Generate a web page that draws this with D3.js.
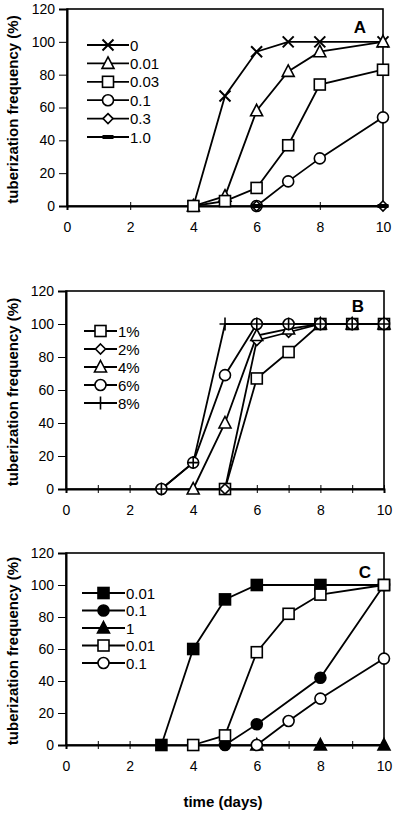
<!DOCTYPE html>
<html><head><meta charset="utf-8">
<script src="https://cdn.jsdelivr.net/npm/d3@7"></script>
<style>body{margin:0;background:#fff}svg{display:block}text{font-family:"Liberation Sans",Arial,sans-serif}</style>
</head><body>
<script>
// ---- data ----
const xTicks = [0,2,4,6,8,10];
const yTicks = [0,20,40,60,80,100,120];

// Panel A
const labelsA = ["0","0.01","0.03","0.1","0.3","1.0"];
const symbolsA = ["cross","triOpen","sqOpen","circOpen","diaOpen","dash"];
const a0   = [[4,0],[5,67],[6,94],[7,100],[8,100],[10,100]];
const a001 = [[4,0],[5,6],[6,58],[7,82],[8,94],[10,100]];
const a003 = [[4,0],[5,3],[6,11],[7,37],[8,74],[10,83]];
const a01  = [[6,0],[7,15],[8,29],[10,54]];
const a03  = [[6,0],[10,0]];
const a10  = [[6,0],[10,0]];

// Panel B
const labelsB = ["1%","2%","4%","6%","8%"];
const symbolsB = ["sqOpen","diaOpen","triOpen","circOpen","plus"];
const b1 = [[5,0],[6,67],[7,83],[8,100],[9,100],[10,100]];
const b2 = [[5,0],[6,90],[7,95],[8,100],[9,100],[10,100]];
const b4 = [[4,0],[5,40],[6,93],[7,97],[8,100],[9,100],[10,100]];
const b6 = [[3,0],[4,16],[5,69],[6,100],[7,100],[8,100],[9,100],[10,100]];
const b8 = [[3,0],[4,16],[5,100],[6,100],[7,100],[8,100],[9,100],[10,100]];

// Panel C
const labelsC = ["0.01","0.1","1","0.01","0.1"];
const symbolsC = ["sqFill","circFill","triFill","sqOpen","circOpen"];
const c1 = [[3,0],[4,60],[5,91],[6,100],[8,100],[10,100]];
const c2 = [[5,0],[6,13],[8,42],[10,100]];
const c3 = [[6,0],[8,0],[10,0]];
const c4 = [[4,0],[5,6],[6,58],[7,82],[8,94],[10,100]];
const c5 = [[6,0],[7,15],[8,29],[10,54]];

const panels = [
  {letter:"A", series:[a0,a001,a003,a01,a03,a10], labels:labelsA, symbols:symbolsA,
   x0:67,x1:383,yTop:9,yBot:206, minor:false,
   leg:{x0:87,x1:129,y:45,dy:18.4}, letterPos:[360,33]},
  {letter:"B", series:[b1,b2,b4,b6,b8], labels:labelsB, symbols:symbolsB,
   x0:66,x1:384,yTop:291,yBot:489, minor:true,
   leg:{x0:84,x1:117,y:331,dy:18}, letterPos:[358,312]},
  {letter:"C", series:[c1,c2,c3,c4,c5], labels:labelsC, symbols:symbolsC,
   x0:66,x1:384,yTop:553,yBot:745, minor:true,
   leg:{x0:82,x1:125,y:593,dy:17.5}, letterPos:[365,578]}
];

const FONT = "'Liberation Sans',Arial,sans-serif";
const svg = d3.select("body").append("svg").attr("width",400).attr("height",815);

function marker(g, type, cx, cy){
  const s = g.append("g").attr("transform",`translate(${cx},${cy})`);
  function apply(el, fill){ el.attr("stroke","#000").attr("stroke-width",1.6).attr("fill",fill); return el; }
  switch(type){
    case "cross":
      s.append("path").attr("d","M-5.5,-5.5L5.5,5.5M-5.5,5.5L5.5,-5.5").attr("stroke","#000").attr("stroke-width",2); break;
    case "plus":
      s.append("path").attr("d","M-5.5,0L5.5,0M0,-6.5L0,6.5").attr("stroke","#000").attr("stroke-width",1.6); break;
    case "triOpen": apply(s.append("path").attr("d","M0,-6.5L6,5L-6,5Z"),"#fff"); break;
    case "triFill": apply(s.append("path").attr("d","M0,-6.5L6,5L-6,5Z"),"#000"); break;
    case "sqOpen": apply(s.append("rect").attr("x",-5.5).attr("y",-5.5).attr("width",11).attr("height",11),"#fff"); break;
    case "sqFill": apply(s.append("rect").attr("x",-5.5).attr("y",-5.5).attr("width",11).attr("height",11),"#000"); break;
    case "circOpen": apply(s.append("circle").attr("r",5.5),"#fff"); break;
    case "circFill": apply(s.append("circle").attr("r",5.5),"#000"); break;
    case "diaOpen": apply(s.append("path").attr("d","M0,-5L5,0L0,5L-5,0Z"),"#fff"); break;
    case "dash": s.append("rect").attr("x",-5.5).attr("y",-2).attr("width",11).attr("height",4).attr("fill","#000"); break;
  }
}

panels.forEach(p => {
  const x = d3.scaleLinear().domain([0,10]).range([p.x0,p.x1]);
  const y = d3.scaleLinear().domain([0,120]).range([p.yBot,p.yTop]);
  const g = svg.append("g");

  // frame
  g.append("rect").attr("x",p.x0).attr("y",p.yTop).attr("width",p.x1-p.x0).attr("height",p.yBot-p.yTop)
    .attr("fill","none").attr("stroke","#000").attr("stroke-width",1.6);

  // y axis
  const ya = g.append("g").attr("transform",`translate(${p.x0},0)`)
    .call(d3.axisLeft(y).tickValues(yTicks).tickSize(8).tickPadding(4));
  ya.select(".domain").attr("stroke-width",2);
  ya.selectAll("text").attr("font-size","14px").attr("font-family",FONT).attr("fill","#000");
  ya.selectAll("line").attr("stroke-width",1);

  // x axis
  const xt = p.minor ? d3.range(0,11) : xTicks;
  const xa = g.append("g").attr("transform",`translate(0,${p.yBot})`)
    .call(d3.axisBottom(x).tickValues(xt).tickSize(4).tickPadding(12).tickFormat(d => d%2===0 ? d : ""));
  xa.select(".domain").attr("stroke-width",2);
  xa.selectAll(".tick line").attr("y1",-4).attr("stroke-width",1);
  xa.selectAll("text").attr("font-size","14px").attr("font-family",FONT).attr("fill","#000");

  // y label
  g.append("text").attr("transform",`translate(18,${(p.yTop+p.yBot)/2+2}) rotate(-90)`)
    .attr("text-anchor","middle").attr("font-size","15px").attr("font-weight","bold").text("tuberization frequency (%)");

  // letter
  g.append("text").attr("x",p.letterPos[0]).attr("y",p.letterPos[1]).attr("text-anchor","middle")
    .attr("font-size","17px").attr("font-weight","bold").text(p.letter);

  const line = d3.line().x(d=>x(d[0])).y(d=>y(d[1]));
  p.series.forEach(s => {
    g.append("path").attr("d",line(s)).attr("fill","none").attr("stroke","#000").attr("stroke-width",1.8);
  });
  p.series.forEach((s,i) => {
    s.forEach(d => marker(g, p.symbols[i], x(d[0]), y(d[1])));
  });

  // legend
  p.labels.forEach((lab,i) => {
    const yy = p.leg.y + i*p.leg.dy;
    g.append("line").attr("x1",p.leg.x0).attr("x2",p.leg.x1).attr("y1",yy).attr("y2",yy)
      .attr("stroke","#000").attr("stroke-width",1.8);
    marker(g, p.symbols[i], (p.leg.x0+p.leg.x1)/2, yy);
    g.append("text").attr("x",p.leg.x1+1).attr("y",yy+5.5).attr("font-size","15px").text(lab);
  });
});

svg.append("text").attr("x",223).attr("y",807).attr("text-anchor","middle")
  .attr("font-size","15px").attr("font-weight","bold").text("time (days)");
</script>
</body></html>
